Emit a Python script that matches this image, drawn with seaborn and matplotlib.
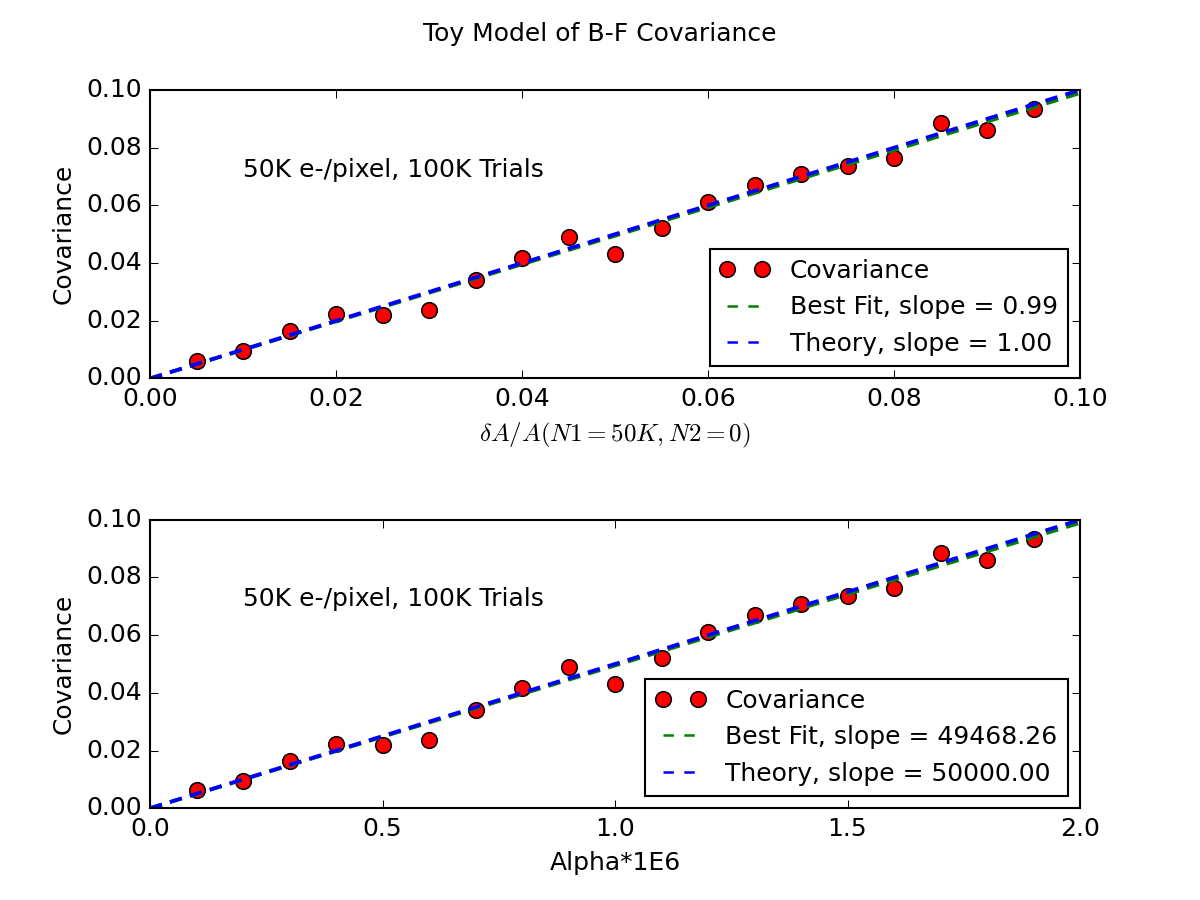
# Toy model of B-F covariance: measured covariance vs. area change / alpha
import numpy as np
import matplotlib
matplotlib.use('Agg')
import matplotlib.pyplot as plt
import seaborn as sns

plt.style.use('classic')

# Data
dA_over_A = [0.005, 0.010, 0.015, 0.020, 0.025, 0.030, 0.035, 0.040, 0.045, 0.050,
             0.055, 0.060, 0.065, 0.070, 0.075, 0.080, 0.085, 0.090, 0.095]
alpha_1e6 = [0.1, 0.2, 0.3, 0.4, 0.5, 0.6, 0.7, 0.8, 0.9, 1.0,
             1.1, 1.2, 1.3, 1.4, 1.5, 1.6, 1.7, 1.8, 1.9]
covariance = [0.0062, 0.0094, 0.0163, 0.0222, 0.0219, 0.0238, 0.0340, 0.0417, 0.0490, 0.0430,
              0.0520, 0.0610, 0.0670, 0.0708, 0.0736, 0.0764, 0.0885, 0.0860, 0.0934]

fit_slope_area = 0.98936
theory_slope_area = 1.00
fit_slope_alpha = 49468.26
theory_slope_alpha = 50000.00

dash = (0, (6, 4))

fig, (ax1, ax2) = plt.subplots(2, 1, figsize=(8, 6), dpi=150)
fig.subplots_adjust(left=0.125, right=0.9, bottom=0.102, top=0.9, hspace=0.49)
fig.suptitle('Toy Model of B-F Covariance', fontsize=12, y=0.975)


def finish_legend(ax):
    leg = ax.legend(loc='lower right', numpoints=2, fontsize=12)
    for h in leg.get_lines()[1:]:
        h.set_linewidth(1.2)
        h.set_linestyle((0, (5, 5)))


# top panel
xx = np.linspace(0, 0.1, 50)
sns.lineplot(x=dA_over_A, y=covariance, ax=ax1, marker='o', linestyle='', color='red',
             markeredgecolor='black', markersize=7.5, label='Covariance')
sns.lineplot(x=xx, y=fit_slope_area * xx, ax=ax1, color='green', linestyle=dash, lw=1.8,
             label='Best Fit, slope = %.2f' % fit_slope_area)
sns.lineplot(x=xx, y=theory_slope_area * xx, ax=ax1, color='blue', linestyle=dash, lw=1.8,
             label='Theory, slope = %.2f' % theory_slope_area)
ax1.set_xlim(0, 0.1)
ax1.set_ylim(0, 0.1)
ax1.set_xlabel(r'$\delta A/A (N1 = 50K, N2 = 0)$')
ax1.set_ylabel('Covariance')
ax1.text(0.01, 0.07, '50K e-/pixel, 100K Trials', fontsize=12)
finish_legend(ax1)

# bottom panel
aa = np.linspace(0, 2.0, 50)
sns.lineplot(x=alpha_1e6, y=covariance, ax=ax2, marker='o', linestyle='', color='red',
             markeredgecolor='black', markersize=7.5, label='Covariance')
sns.lineplot(x=aa, y=fit_slope_alpha * aa * 1e-6, ax=ax2, color='green', linestyle=dash, lw=1.8,
             label='Best Fit, slope = %.2f' % fit_slope_alpha)
sns.lineplot(x=aa, y=theory_slope_alpha * aa * 1e-6, ax=ax2, color='blue', linestyle=dash, lw=1.8,
             label='Theory, slope = %.2f' % theory_slope_alpha)
ax2.set_xlim(0, 2.0)
ax2.set_ylim(0, 0.1)
ax2.set_xlabel('Alpha*1E6')
ax2.set_ylabel('Covariance')
ax2.text(0.2, 0.07, '50K e-/pixel, 100K Trials', fontsize=12)
finish_legend(ax2)

fig.savefig('out.png', dpi=150)
